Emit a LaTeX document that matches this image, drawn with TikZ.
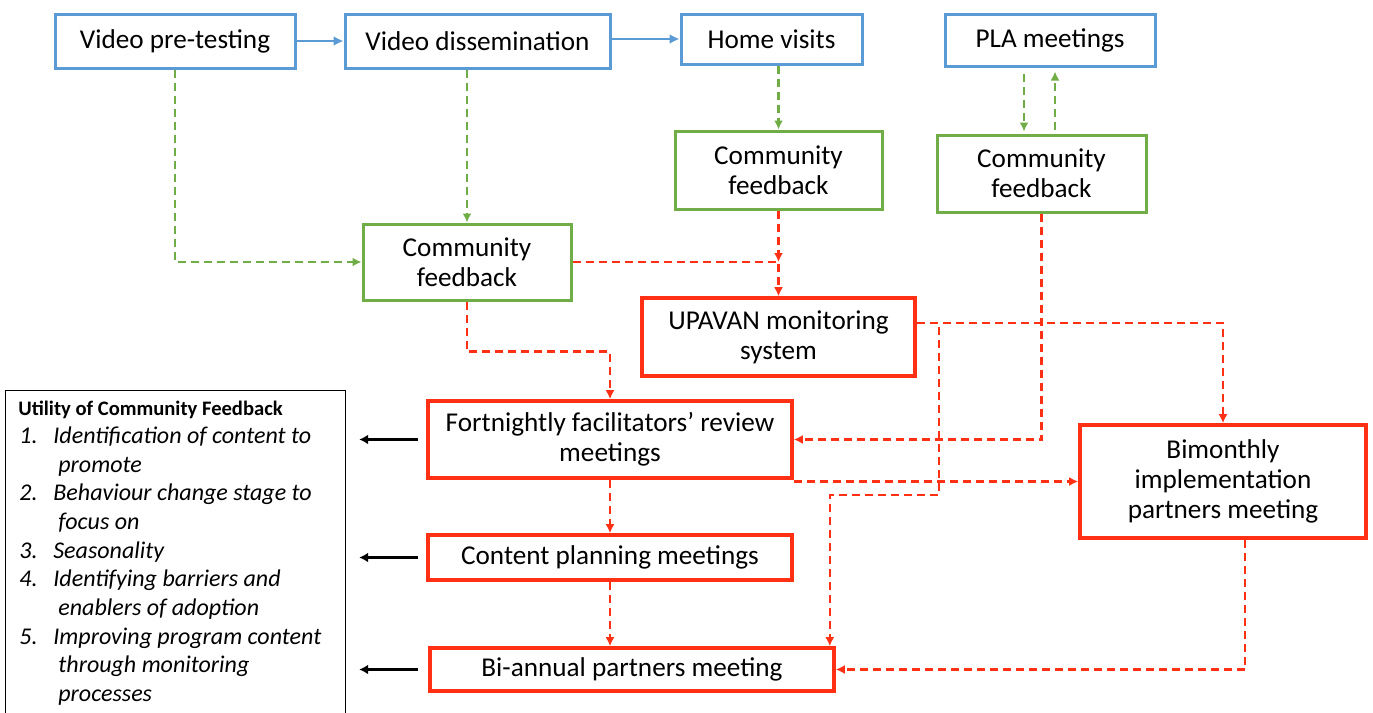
\documentclass[tikz,border=0pt]{standalone}
\usepackage{fontspec}
\setmainfont{Carlito}
\usetikzlibrary{arrows.meta,calc}
\definecolor{cblue}{RGB}{91,155,213}
\definecolor{cgreen}{RGB}{112,173,71}
\definecolor{cred}{RGB}{255,48,20}
\begin{document}
\begin{tikzpicture}[x=0.5pt,y=-0.5pt,
  box/.style={draw, line width=1.5pt, align=center, inner sep=0pt, font=\fontsize{13.6}{15}\selectfont},
  bbox/.style={box, draw=cblue},
  gbox/.style={box, draw=cgreen},
  rbox/.style={box, draw=cred, line width=1.8pt},
  dl/.style={line width=1.1pt, dash pattern=on 4pt off 2.5pt, -{Latex[length=4.5pt,width=4.5pt]}},
  gl/.style={dl, draw=cgreen},
  rl/.style={dl, draw=cred},
  bl/.style={line width=1.2pt, draw=cblue, -{Latex[length=5pt,width=5pt]}},
  kl/.style={line width=1.5pt, draw=black, -{Latex[length=4.5pt,width=5pt]}},
  itm/.style={anchor=base west, inner sep=0pt, font=\fontsize{12}{14}\selectfont\itshape}]
\useasboundingbox (0,0) rectangle (1373,713);
% top row
\node[bbox, minimum width=120pt, minimum height=27pt] (vpt) at (175,41) {Video pre-testing};
\node[bbox, minimum width=132.5pt, minimum height=27pt] (vd) at (477.5,41) {Video dissemination};
\node[bbox, minimum width=90.5pt, minimum height=25pt] (hv) at (771.5,39) {Home visits};
\node[bbox, minimum width=105pt, minimum height=26pt] (pla) at (1050,40) {PLA meetings};
% feedback
\node[gbox, minimum width=103.5pt, minimum height=39pt] (cfh) at (778.5,170) {Community\\feedback};
\node[gbox, minimum width=104.5pt, minimum height=38.5pt] (cfp) at (1041.5,173.5) {Community\\feedback};
\node[gbox, minimum width=104pt, minimum height=38pt] (cf) at (467,262) {Community\\feedback};
% red
\node[rbox, minimum width=136.5pt, minimum height=39pt] (up) at (778.5,337) {UPAVAN monitoring\\system};
\node[rbox, minimum width=182pt, minimum height=38.5pt] (ff) at (610,439.5) {Fortnightly facilitators’ review\\meetings};
\node[rbox, minimum width=143pt, minimum height=56.5pt] (bm) at (1223,481.5) {Bimonthly\\implementation\\partners meeting};
\node[rbox, minimum width=182pt, minimum height=22.5pt] (cp) at (610,557.5) {Content planning meetings};
\node[rbox, minimum width=202pt, minimum height=21.5pt] (ba) at (632,669.5) {Bi-annual partners meeting};
% utility box
\node[draw, line width=0.6pt, anchor=north west, minimum width=170pt, minimum height=170pt, inner sep=0pt] (util) at (5,390) {};
\node[anchor=base west, inner sep=0pt, font=\fontsize{10.3}{12}\selectfont\bfseries] (ut) at (18,415) {Utility of Community Feedback};
\node[itm] (n1) at (19,443) {1.};
\node[itm] (t1a) at (53,443) {Identification of content to};
\node[itm] (t1b) at (58,472) {promote};
\node[itm] (n2) at (19,500.5) {2.};
\node[itm] (t2a) at (53,500.5) {Behaviour change stage to};
\node[itm] (t2b) at (58,529) {focus on};
\node[itm] (n3) at (19,558) {3.};
\node[itm] (t3a) at (53,558) {Seasonality};
\node[itm] (n4) at (19,586.5) {4.};
\node[itm] (t4a) at (53,586.5) {Identifying barriers and};
\node[itm] (t4b) at (58,615) {enablers of adoption};
\node[itm] (n5) at (19,644) {5.};
\node[itm] (t5a) at (53,644) {Improving program content};
\node[itm] (t5b) at (58,672.5) {through monitoring};
\node[itm] (t5c) at (58,701) {processes};
% blue arrows
\draw[bl] (vpt.east) -- (vd.west);
\draw[bl] (vd.east |- hv.west) -- (hv.west);
% green arrows
\draw[gl] (vpt.south) |- (cf.west);
\draw[gl] (cf.north |- vd.south) -- (cf.north);
\draw[gl] (cfh.north |- hv.south) -- (cfh.north);
\draw[gl, shorten <=3pt, shorten >=1pt] ($(pla.south)+(-26,0)$) -- ($(cfp.north)+(-17.5,0)$);
\draw[gl, shorten <=2pt, shorten >=2pt] ($(cfp.north)+(13.5,0)$) -- ($(pla.south)+(5,0)$);
% red arrows
\draw[rl] (cf.east) -| (up.north);
\draw[rl] (cfh.south) -- (cfh.south |- cf.east);
\draw[rl] (cf.south) -- ++(0,50) -| (ff.north);
\draw[rl] ($(up.east)+(0,-14)$) -| (bm.north);
\draw[rl] ($(up.east)+(0,-14)$) -- ++(22,0) -- ++(0,172) -| ($(ba.north east)+(-6,0)$);
\draw[rl] (cfp.south) |- (ff.east);
\draw[rl] (ff.south east |- bm.west) -- (bm.west);
\draw[rl] (ff.south) -- (cp.north);
\draw[rl] (cp.south) -- (cp.south |- ba.north);
\draw[rl] ($(bm.south)+(22,0)$) |- (ba.east);
% black arrows
\draw[kl] ([xshift=-4pt]ff.west) -- ([xshift=6.5pt]util.east |- ff.west);
\draw[kl] ([xshift=-4pt]cp.west) -- ([xshift=6.5pt]util.east |- cp.west);
\draw[kl] ([xshift=-5pt]ba.west) -- ([xshift=6.5pt]util.east |- ba.west);
\end{tikzpicture}
\end{document}
